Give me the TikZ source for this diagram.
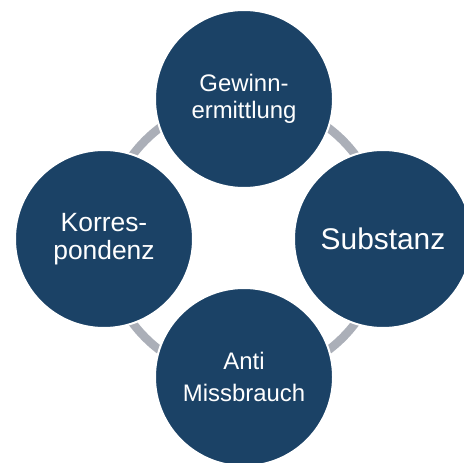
\documentclass[tikz,border=0pt]{standalone}
\usepackage{fontspec}
\setmainfont{Liberation Sans}
\definecolor{kreisblau}{RGB}{27,66,102}
\definecolor{ringgrau}{RGB}{171,175,184}
\tikzset{
  kreis/.style={circle,fill=kreisblau,draw=white,line width=2bp,
    minimum size=178bp,inner sep=0pt,text=white,align=center,
    font=\fontsize{24}{27}\selectfont},
  ring/.style={draw=ringgrau,line width=8.5bp}
}
\begin{document}
\begin{tikzpicture}[x=1bp,y=-1bp]
\useasboundingbox (0,0) rectangle (464,463);
\clip (0,0) rectangle (464,463);

      \coordinate (mitte) at (244,239);
       \draw[ring] (mitte) circle (139.5);

        \node[kreis] (gewinn) at (244,99) {Gewinn-\\ermittlung};
         \node[kreis,font=\fontsize{26.5}{27.5}\selectfont] (korres) at (104,239) {Korres-\\pondenz};
          \node[kreis,font=\fontsize{30}{33}\selectfont] (substanz) at (383,239) {Substanz};
           \node[kreis,font=\fontsize{24}{32.5}\selectfont] (missbrauch) at (244,377) {Anti\\Missbrauch};

\end{tikzpicture}
\end{document}
